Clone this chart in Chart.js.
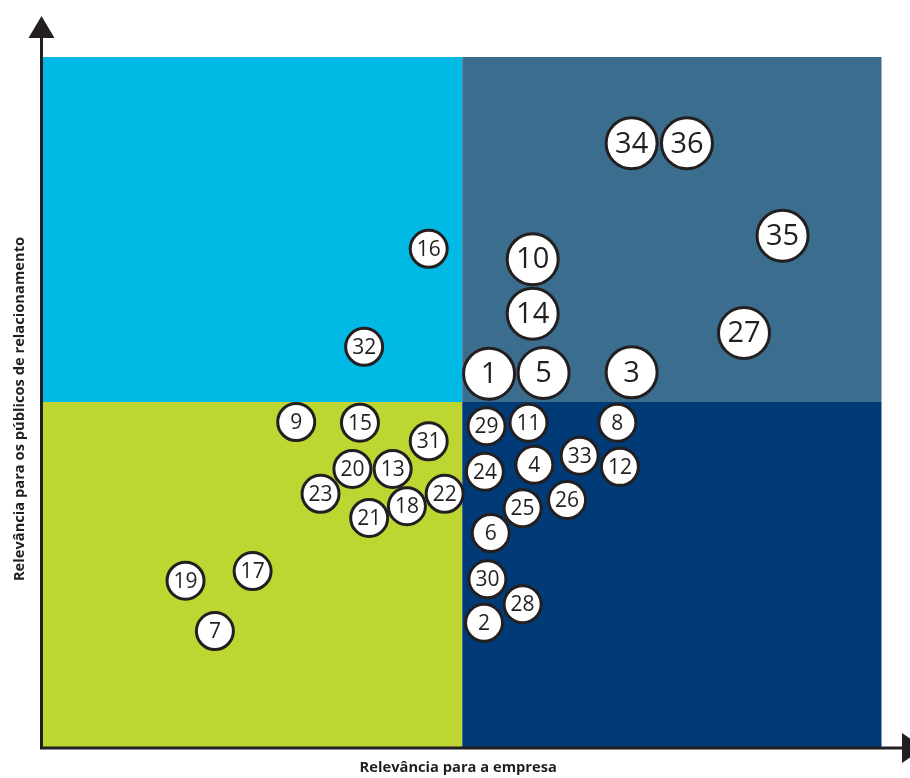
<!DOCTYPE html>
<html>
<head>
<meta charset="utf-8">
<script src="https://cdn.jsdelivr.net/npm/chart.js@4/dist/chart.umd.min.js"></script>
<style>
    html, body { margin: 0; padding: 0; background: #fff; }
    #wrap { width: 910px; height: 778px; position: relative; }
</style>
</head>
<body>
<div id="wrap"><canvas id="matrixChart"></canvas></div>
<script>
// Tema numbers, position on the matrix (0-100 on each axis), and relevance level (1 = normal, 2 = high)
const temas = [1, 2, 3, 4, 5, 6, 7, 8, 9, 10, 11, 12, 13, 14, 15, 16, 17, 18, 19, 20, 21, 22, 23, 24, 25, 26, 27, 28, 29, 30, 31, 32, 33, 34, 35, 36];
const empresa = [53.2, 52.6, 70.2, 58.6, 59.7, 53.4, 20.5, 68.5, 30.2, 58.4, 57.9, 68.8, 41.7, 58.4, 37.8, 46.0, 25.0, 43.4, 17.0, 36.9, 38.9, 47.9, 33.1, 52.7, 57.2, 62.5, 83.6, 57.2, 52.9, 53.0, 46.0, 38.3, 64.0, 70.2, 88.2, 76.8];
const publicos = [54.1, 18.0, 54.3, 40.9, 54.2, 31.0, 16.8, 47.0, 47.1, 70.7, 47.0, 40.6, 40.3, 62.8, 47.0, 72.2, 25.5, 34.9, 24.1, 40.3, 33.2, 36.7, 36.7, 39.9, 34.6, 35.8, 60.0, 20.7, 46.5, 24.3, 44.3, 58.0, 42.2, 87.5, 74.1, 87.5];
const nivel = [2, 1, 2, 1, 2, 1, 1, 1, 1, 2, 1, 1, 1, 2, 1, 1, 1, 1, 1, 1, 1, 1, 1, 1, 1, 1, 2, 1, 1, 1, 1, 1, 1, 2, 2, 2];

const xTitle = 'Relevância para a empresa';
const yTitle = 'Relevância para os públicos de relacionamento';

const quadrantColors = {
    topLeft: '#00B9E4',
    topRight: '#3A6D8E',
    bottomLeft: '#BDD631',
    bottomRight: '#003B78'
};
const inkColor = '#231F20';

const points = temas.map((t, i) => ({
    x: empresa[i],
    y: publicos[i],
    r: nivel[i] === 2 ? 25.5 : 18.5
}));

// Background quadrants + axes with arrows
const quadrantPlugin = {
    id: 'quadrants',
    beforeDatasetsDraw(chart) {
        const { ctx, scales: { x, y } } = chart;
        const x0 = x.getPixelForValue(0), x1 = x.getPixelForValue(50), x2 = x.getPixelForValue(100);
        const y0 = y.getPixelForValue(0), y1 = y.getPixelForValue(50), y2 = y.getPixelForValue(100);
        ctx.save();
        ctx.fillStyle = quadrantColors.topLeft;
        ctx.fillRect(x0, y2, x1 - x0, y1 - y2);
        ctx.fillStyle = quadrantColors.topRight;
        ctx.fillRect(x1, y2, x2 - x1, y1 - y2);
        ctx.fillStyle = quadrantColors.bottomLeft;
        ctx.fillRect(x0, y1, x1 - x0, y0 - y1);
        ctx.fillStyle = quadrantColors.bottomRight;
        ctx.fillRect(x1, y1, x2 - x1, y0 - y1);

        // axes
        const ax = x0 - 1.5;
        const ay = y0 + 1;
        ctx.strokeStyle = inkColor;
        ctx.fillStyle = inkColor;
        ctx.lineWidth = 3;
        ctx.beginPath();
        ctx.moveTo(ax, 36);
        ctx.lineTo(ax, ay + 1.5);
        ctx.moveTo(ax - 1.5, ay);
        ctx.lineTo(904, ay);
        ctx.stroke();

        // arrow heads
        ctx.beginPath();
        ctx.moveTo(ax, 16);
        ctx.lineTo(ax + 13, 38);
        ctx.lineTo(ax - 13, 38);
        ctx.closePath();
        ctx.fill();
        ctx.beginPath();
        ctx.moveTo(924, ay);
        ctx.lineTo(902, ay - 15);
        ctx.lineTo(902, ay + 15);
        ctx.closePath();
        ctx.fill();

        // axis titles
        ctx.font = 'bold 14.7px "Open Sans"';
        ctx.textAlign = 'center';
        ctx.textBaseline = 'middle';
        ctx.fillText(xTitle, (x0 + x2) / 2 - 4, 768);
        ctx.translate(20, (y0 + y2) / 2 + 7);
        ctx.rotate(-Math.PI / 2);
        ctx.fillText(yTitle, 0, 0);
        ctx.restore();
    }
};

// Numbers inside each bubble
const bubbleLabelPlugin = {
    id: 'bubbleLabels',
    afterDatasetsDraw(chart) {
        const { ctx } = chart;
        const meta = chart.getDatasetMeta(0);
        ctx.save();
        ctx.fillStyle = inkColor;
        ctx.textAlign = 'center';
        ctx.textBaseline = 'middle';
        meta.data.forEach((el, i) => {
            const big = nivel[i] === 2;
            ctx.font = (big ? '29px' : '21px') + ' "Open Sans"';
            ctx.fillText(String(temas[i]), el.x, el.y + 1);
        });
        ctx.restore();
    }
};

function initializeChart() {
    const ctx = document.getElementById('matrixChart');
    new Chart(ctx, {
        type: 'bubble',
        data: {
            datasets: [{
                label: 'Temas',
                data: points,
                backgroundColor: '#ffffff',
                borderColor: inkColor,
                borderWidth: 3,
                clip: false
            }]
        },
        options: {
            responsive: true,
            maintainAspectRatio: false,
            animation: false,
            layout: {
                padding: { left: 43, top: 57, right: 28, bottom: 31 }
            },
            scales: {
                x: { type: 'linear', min: 0, max: 100, display: false },
                y: { type: 'linear', min: 0, max: 100, display: false }
            },
            plugins: {
                legend: { display: false },
                tooltip: { enabled: false }
            }
        },
        plugins: [quadrantPlugin, bubbleLabelPlugin]
    });
}

document.addEventListener('DOMContentLoaded', initializeChart);
</script>
</body>
</html>
